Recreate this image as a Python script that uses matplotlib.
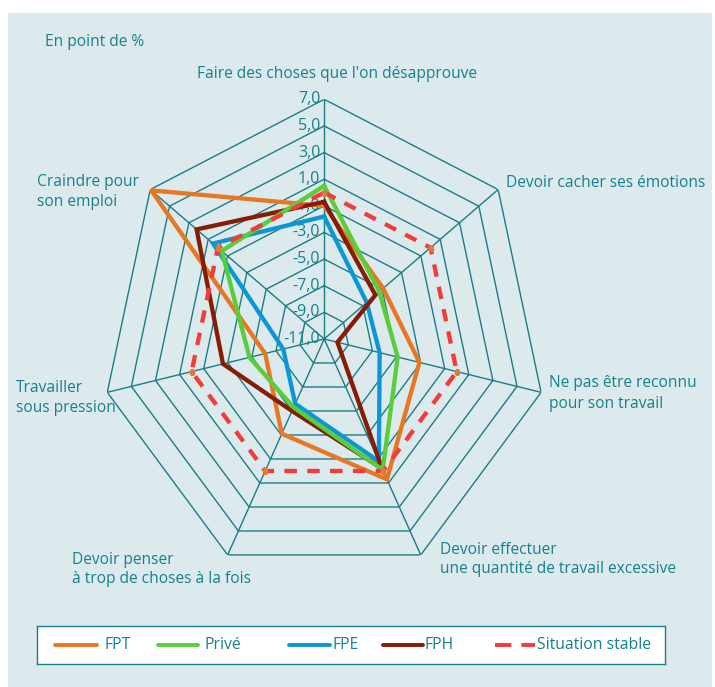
import matplotlib.pyplot as plt
import numpy as np
from matplotlib.patches import Rectangle
from matplotlib.transforms import offset_copy

plt.rcParams['font.family'] = ['Open Sans', 'DejaVu Sans']

# data, axes clockwise from the top
axes_labels = [
    ["Faire des choses que l'on désapprouve"],
    ["Devoir cacher ses émotions"],
    ["Ne pas être reconnu", "pour son travail"],
    ["Devoir effectuer", "une quantité de travail excessive"],
    ["Devoir penser", "à trop de choses à la fois"],
    ["Travailler", "sous pression"],
    ["Craindre pour", "son emploi"],
]
series_names = ["FPT", "Privé", "FPE", "FPH", "Situation stable"]
fpt = [-1.0, -4.9, -3.1, 0.7, -3.1, -6.1, 6.9]
prive = [0.5, -5.3, -4.9, -0.1, -5.3, -4.8, -0.4]
fpe = [-1.8, -6.6, -6.4, -0.8, -5.6, -7.6, 0.5]
fph = [-0.7, -5.7, -9.9, -0.2, -5.0, -2.6, 2.2]
stable = [0, 0, 0, 0, 0, 0, 0]
rings = [-9, -7, -5, -3, -1, 1, 3, 5, 7]
tick_vals = [-11, -9, -7, -5, -3, -1, 1, 3, 5, 7]

teal = '#17808a'
grid_c = '#1a7d85'
bg = '#dceaee'
colors = ['#e87722', '#5acd3a', '#0a97d3', '#851c06', '#ef3e3a']

W, H = 715, 687
fig = plt.figure(figsize=(W / 100, H / 100), dpi=100, facecolor='white')
fig.patches.append(Rectangle((8 / W, 0), (712 - 8) / W, (H - 13) / H,
                             transform=fig.transFigure, facecolor=bg,
                             edgecolor='none', zorder=-10))

def fx(x):
    return x / W

def fy(y):
    return 1 - y / H

# polar axes, stretched a bit vertically like the original
cx, cy, rh, rv = 324.2, 339.0, 222.5, 239.7
ax = fig.add_axes([fx(cx - rh), fy(cy + rv), 2 * rh / W, 2 * rv / H],
                  projection='polar')
ax.set_aspect('auto')
ax.set_theta_zero_location('N')
ax.set_theta_direction(-1)
ax.set_ylim(-11, 7)
ax.grid(False)
ax.set_xticks([])
ax.set_yticks([])
ax.spines['polar'].set_visible(False)
ax.patch.set_alpha(0)

n = len(axes_labels)
ang = np.linspace(0, 2 * np.pi, n, endpoint=False)
ang_c = np.append(ang, ang[0])

for r in rings:
    ax.plot(ang_c, [r] * (n + 1), color=grid_c, lw=1.0, zorder=1)
for a in ang:
    ax.plot([a, a], [-11, 7], color=grid_c, lw=1.0, zorder=1)

tr = offset_copy(ax.transData, fig=fig, x=-4, y=0, units='dots')
for v in tick_vals:
    ax.text(0, v, f"{v:.1f}".replace('.', ','), transform=tr, ha='right',
            va='center', color=teal, fontsize=11.5, zorder=2)

all_series = [fpt, prive, fpe, fph]
order = [0, 2, 3, 1]
for i in order:
    vals = all_series[i]
    ax.plot(ang_c, vals + vals[:1], color=colors[i], lw=3.1, zorder=3,
            solid_joinstyle='miter')
ax.plot(ang_c, stable + stable[:1], color=colors[4], lw=3.1,
        dashes=(2.9, 2.4), zorder=4)
ax.plot(ang, stable, ls='none', marker='s', ms=3, color='#e07a3a', zorder=5)

# labels around the chart (left x, line centre y, in pixels)
label_pos = [(337, [74], 'center'), (506, [183], 'left'),
             (549, [383, 404], 'left'), (440, [550, 569], 'left'),
             (72, [560, 579], 'left'), (16, [388, 408], 'left'),
             (37, [182, 202], 'left')]
for lines, (x, ys, ha) in zip(axes_labels, label_pos):
    for txt, y in zip(lines, ys):
        fig.text(fx(x), fy(y), txt, ha=ha, va='center', color=teal,
                 fontsize=11.2)

fig.text(fx(45), fy(42), "En point de %", ha='left', va='center',
         color=teal, fontsize=11.2)

# legend box
lg = fig.add_axes([fx(37), fy(664), (665 - 37) / W, (664 - 626) / H])
lg.set_xlim(37, 665)
lg.set_ylim(664, 626)
lg.set_xticks([])
lg.set_yticks([])
lg.set_facecolor('white')
for s in lg.spines.values():
    s.set_color(teal)
    s.set_linewidth(1.0)
leg_x = [(55, 97, 105), (158, 198, 205), (289, 330, 332), (383, 423, 425),
         (495, 535, 537)]
for i, (x0, x1, xt) in enumerate(leg_x):
    if i == 4:
        lg.plot([x0, x1], [645, 645], color=colors[i], lw=2.8,
                dashes=(4.2, 2.6), dash_capstyle='butt')
    else:
        lg.plot([x0, x1], [645, 645], color=colors[i], lw=2.8,
                solid_capstyle='round')
    lg.text(xt, 645, series_names[i], ha='left', va='center', color=teal,
            fontsize=11.3)

fig.savefig('out.png', dpi=100, facecolor='white')
